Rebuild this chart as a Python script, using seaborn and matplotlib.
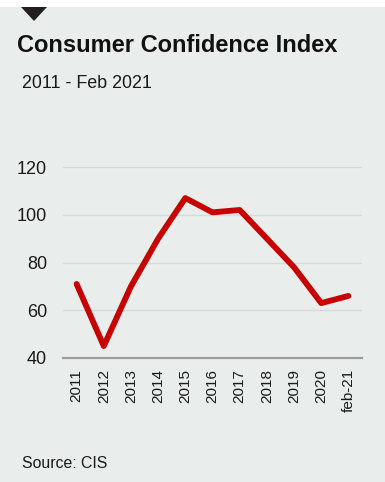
import matplotlib
matplotlib.use("Agg")
import matplotlib.pyplot as plt
import seaborn as sns
import pandas as pd
from matplotlib.patches import Polygon, Rectangle

years = ["2011", "2012", "2013", "2014", "2015", "2016", "2017",
         "2018", "2019", "2020", "feb-21"]
confidence = [71, 45, 70, 90, 107, 101, 102, 90, 78, 63, 66]
y_ticks = [40, 60, 80, 100, 120]

BG = "#e9eeec"
RED = "#c70000"


def main():
    sns.set_theme(style="white")
    plt.rcParams["font.family"] = ["Liberation Sans", "DejaVu Sans"]

    df = pd.DataFrame({"pos": range(len(years)), "value": confidence})

    fig = plt.figure(figsize=(3.85, 4.82), dpi=100, facecolor=BG)
    # white strip at the top and the little marker triangle
    fig.patches.append(Rectangle((0, 1 - 7 / 482), 1, 7 / 482, transform=fig.transFigure,
                                 facecolor="white", edgecolor="none", zorder=0))
    fig.patches.append(Polygon([(21 / 385, 1 - 7 / 482), (47 / 385, 1 - 7 / 482),
                                (34 / 385, 1 - 21 / 482)], closed=True,
                               transform=fig.transFigure, facecolor="#231f20",
                               edgecolor="none", zorder=1))

    ax = fig.add_axes([63 / 385, 1 - 358 / 482, 299 / 385, 191 / 482])
    ax.set_facecolor(BG)

    sns.lineplot(data=df, x="pos", y="value", ax=ax, color=RED, linewidth=4.2,
                 solid_joinstyle="round", solid_capstyle="round", zorder=3)

    ax.set_xlim(-0.5, len(years) - 0.5)
    ax.set_ylim(40, 120)
    ax.set_yticks(y_ticks)
    ax.set_yticklabels([str(t) for t in y_ticks], fontsize=13, color="#1a1a1a")
    ax.set_xticks(range(len(years)))
    ax.set_xticklabels(years, rotation=90, fontsize=11, color="#1a1a1a")
    ax.tick_params(axis="both", length=0)
    ax.tick_params(axis="y", pad=11.5)
    ax.tick_params(axis="x", pad=8)
    ax.set_xlabel("")
    ax.set_ylabel("")

    ax.yaxis.grid(True, color="#d6dbd9", linewidth=1)
    ax.set_axisbelow(True)
    for side in ["left", "right", "top"]:
        ax.spines[side].set_visible(False)
    ax.spines["bottom"].set_color("#9c9c9c")
    ax.spines["bottom"].set_linewidth(1.6)

    fig.text(17 / 385, 1 - 52 / 482, "Consumer Confidence Index", fontsize=17,
             fontweight="bold", color="#111111", ha="left", va="baseline")
    fig.text(22 / 385, 1 - 88 / 482, "2011 - Feb 2021", fontsize=12.9,
             color="#1a1a1a", ha="left", va="baseline")
    fig.text(22 / 385, 1 - 468 / 482, "Source: CIS", fontsize=11.4,
             color="#1a1a1a", ha="left", va="baseline")

    fig.savefig("out.png", dpi=100, facecolor=BG)
    plt.close(fig)


if __name__ == "__main__":
    main()
